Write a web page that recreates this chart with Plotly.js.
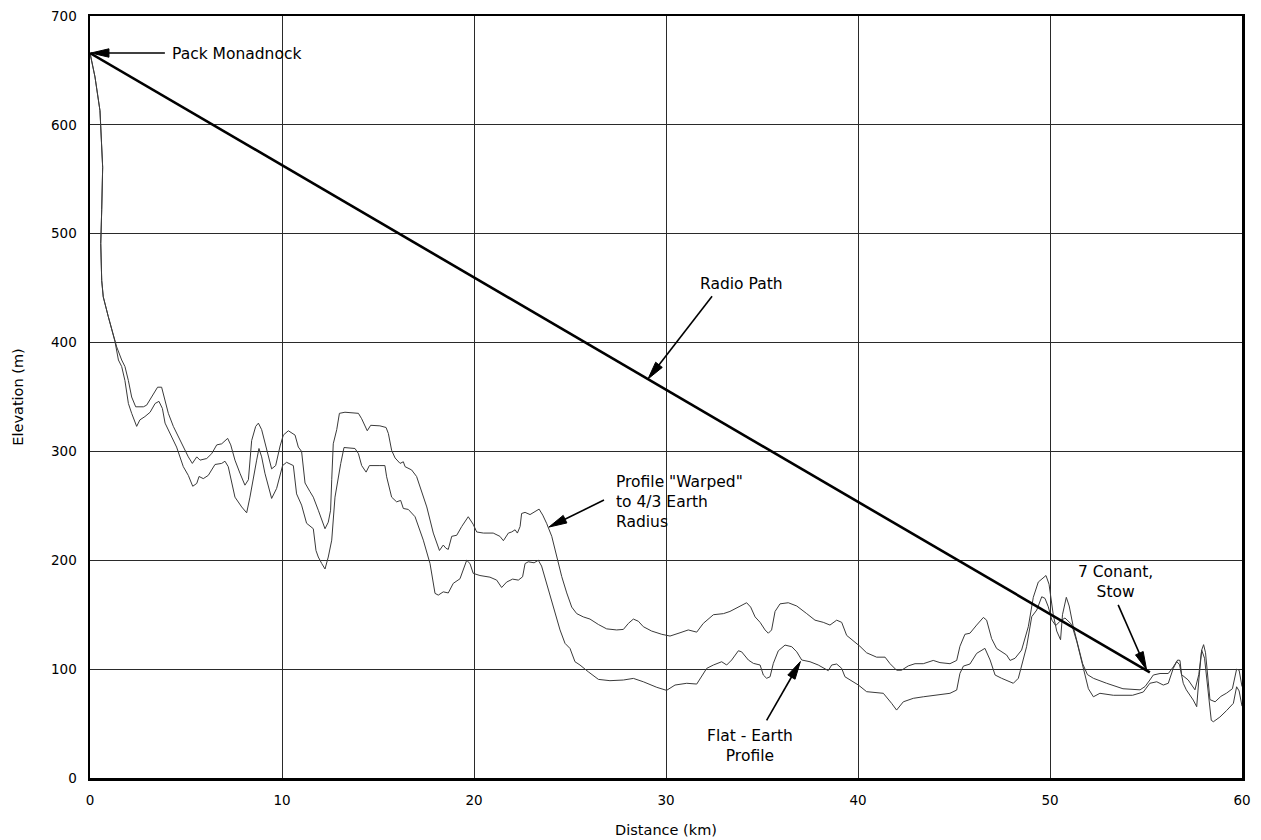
<!DOCTYPE html>
<html>
<head>
<meta charset="utf-8">
<script src="https://cdn.plot.ly/plotly-3.0.1.min.js"></script>
<style>html,body{margin:0;padding:0;background:#fff;}#chart{width:1261px;height:840px;}</style>
</head>
<body>
<div id="chart"></div>
<script>
// ---- Data ----
const xTicks = [0, 10, 20, 30, 40, 50, 60];
const yTicks = [0, 100, 200, 300, 400, 500, 600, 700];

const radioPathKm = [0, 55.2];
const radioPathM = [666, 97];

const warpedKm = [0,0.26,0.52,0.61,0.66,0.61,0.56,0.61,0.69,0.95,1.30,1.39,1.65,1.82,2.0,2.17,2.38,2.78,2.95,3.21,3.52,3.73,3.91,4.08,4.34,4.77,5.12,5.33,5.56,5.73,6.08,6.34,6.60,6.86,7.17,7.33,7.55,7.81,8.07,8.25,8.42,8.63,8.77,8.94,9.20,9.46,9.67,9.90,10.07,10.33,10.68,10.85,11.02,11.20,11.46,11.63,11.89,12.07,12.24,12.41,12.53,12.59,12.67,12.85,12.99,13.28,13.98,14.15,14.32,14.44,14.62,15.10,15.42,15.54,15.71,15.89,16.15,16.32,16.41,16.75,17.01,17.19,17.54,17.88,18.20,18.40,18.54,18.66,18.84,19.10,19.36,19.70,19.96,20.14,20.49,21.0,21.35,21.53,21.79,21.96,22.14,22.26,22.40,22.48,22.66,22.92,23.18,23.39,23.58,23.78,24.05,24.31,24.57,24.83,25.09,25.35,25.69,26.04,26.48,26.91,27.43,27.78,28.04,28.30,28.56,28.82,29.25,29.78,30.21,30.73,31.16,31.60,31.94,32.47,32.99,33.33,33.77,34.20,34.41,34.64,34.90,35.16,35.33,35.50,35.68,35.94,36.37,36.81,37.33,37.76,38.19,38.54,38.89,39.15,39.41,39.76,40.10,40.45,40.97,41.41,41.67,42.01,42.27,42.62,42.97,43.40,43.92,44.27,44.79,45.14,45.31,45.57,45.83,46.18,46.53,46.70,46.96,47.22,47.57,47.74,47.92,48.18,48.52,48.87,49.13,49.39,49.79,49.95,50.17,50.35,50.55,50.65,50.85,51.0,51.2,51.45,51.7,51.95,52.26,52.95,53.8,54.69,54.95,55.2,55.38,55.73,56.16,56.42,56.65,56.77,56.85,57.2,57.55,57.75,57.9,58.0,58.1,58.33,58.6,58.9,59.2,59.5,59.72,59.85,60];
const warpedM = [666,644,613,583,561,522,491,457,442,424,401,396,384,378,365,350,341,341,342.5,350,359,359,347,335,323,307,295,289,295,292,293.5,298,306,307,312,306,292,280,269,274,310,323,326,320,301,284,287,305,315,319,315,304,300,271,263,258,246,237,229,235,246,274,307,320,335,336,335,330,323,319,324,323.5,322,316.5,301,294,289,290.5,286,283,277,267.5,249,225,209,214,211,210,222,223,231,240,233,226,225,225,222,218,225,226,228,225,231,243,244,242,245,247,241.5,234,222,203,185,170,157,151,148,146,141,137,136,136.5,142,146,144,139,135,132,130.4,133.4,136,134,142,150,151,153,157,161,157,148,143,136,133,136,153,160,161,158,151,145,143,140.5,145,143,131,126,121,115,111,111,105,99,99,103,105,105,108,106,105,108,121,132,133,140.5,147.5,145,128,119,115,113,108,110,117.5,139,166,180,186,178,150,135,127,150,166,158,140,122,105,95,91.6,87,82,81,84,90,94.6,96,96,102,108.4,108,95,90,81,95,117.5,122.5,115,72,70,75,78,82,100,99,84];

const flatKm = [0,0.26,0.52,0.61,0.66,0.61,0.56,0.61,0.69,0.95,1.30,1.48,1.65,1.82,2.0,2.17,2.43,2.60,2.86,3.13,3.39,3.59,3.77,3.91,4.17,4.51,4.86,5.12,5.35,5.56,5.68,5.90,6.16,6.51,6.86,7.03,7.20,7.38,7.55,7.90,8.16,8.33,8.51,8.68,8.80,8.94,9.11,9.29,9.46,9.72,9.98,10.03,10.24,10.59,10.76,11.02,11.28,11.63,11.77,11.89,12.07,12.24,12.41,12.59,12.76,12.93,13.06,13.23,13.80,13.98,14.15,14.38,14.55,15.10,15.36,15.45,15.71,15.97,16.18,16.32,16.58,16.93,17.36,17.71,17.97,18.14,18.40,18.66,18.92,19.27,19.62,19.79,19.96,20.31,20.83,21.18,21.44,21.70,22.01,22.31,22.53,22.66,22.83,23.13,23.35,23.52,23.78,24.13,24.48,24.74,25.0,25.26,25.52,25.95,26.48,27.08,27.78,28.30,28.82,29.52,30.03,30.47,31.08,31.60,31.86,32.12,32.47,32.90,33.16,33.42,33.77,33.94,34.29,34.55,34.90,35.07,35.24,35.42,35.59,35.85,36.20,36.55,36.81,37.07,37.50,37.93,38.45,38.63,38.89,39.15,39.32,39.67,40.02,40.45,40.89,41.32,41.75,42.01,42.36,42.88,43.40,44.10,44.79,45.14,45.31,45.49,45.83,46.18,46.61,46.88,47.14,47.48,47.74,48.09,48.35,48.52,48.78,49.05,49.31,49.57,49.74,49.91,50.1,50.3,50.52,50.78,51.13,51.4,51.6,51.8,52.0,52.26,52.6,53.3,54.3,54.86,55.2,55.56,55.9,56.16,56.42,56.6,56.75,56.94,57.1,57.46,57.64,57.75,57.9,58.05,58.4,58.51,58.85,59.2,59.55,59.72,59.85,60];
const flatM = [666,644,613,583,561,522,491,457,442,424,401,384,378,365,344,335,323,329,332,336,344,346,339.5,326,316.5,304,286,278,268,270.6,277,275,278,288,289,291,286,270.6,258,249,243.6,258,276.7,292,302.7,295,280,267.5,256.8,266,283,287,290,287,261,250.7,234,229,209,203,197,192,203,218.5,258,276.7,289,303.6,302.7,298,287,281,287,287,287,276.7,258,253.7,255,247.6,246.7,240,218.5,197,169.6,168,171,170,178.8,183,200,197,188,186,184.5,181.8,175,180,182.7,181.8,184.8,197,198.6,197.7,200,194.7,178.8,157,136,123.7,119,106.8,103.8,97.6,90.6,89.4,90,91.5,88.4,83.3,80.5,85.4,87,86.3,93,100.7,103.8,106.8,103.8,108.4,116.9,115.9,108.4,105.3,103.8,94.6,91.6,93,105.3,116.9,122.1,120.6,115.9,108.4,106.8,103.8,98.6,103.8,104.7,100.7,93,89.4,85.4,79.3,78.7,77.8,68.6,62.4,70,73.2,74.6,76.2,77.8,80.8,96.1,102.8,104.7,114.5,119.1,108.4,94.6,91.6,89.4,87,91.6,102.3,120.6,148.2,154.3,166.5,165,157.3,145,140,144,147,141,125,110,95,82,74.6,77.8,76,76,79,87,88.4,85.4,87,100.7,107,104,87,81,71.6,65.5,90,117.5,110,53,51.7,56,62,68.6,83.8,80,66];

// annotation labels and where they point (data units)
const labels = ["Pack Monadnock", "Radio Path", "Profile \"Warped\"<br>to 4/3 Earth<br>Radius", "7 Conant,<br>Stow", "Flat - Earth<br>Profile"];
const labelKm = [4.15, 33.95, 27.3, 53.4, 34.4];
const labelM = [665, 454, 254, 180, 29];
const labelAnchor = ["left", "center", "left", "center", "center"];
const labelAlign = ["left", "center", "left", "center", "center"];
const headKm = [0.05, 29.06, 23.9, 55.03, 37.0];
const headM = [666, 366.5, 230.5, 99.5, 107];
const tailKm = [3.9, 32.4, 26.77, 53.55, 35.24];
const tailM = [666, 442.6, 255.3, 159, 53];

// ---- Layout geometry ----
const W = 1261, H = 840;
const margin = {l: 90, r: 19, t: 16, b: 62};
const xRange = [0, 60], yRange = [0, 700];
const sx = (W - margin.l - margin.r) / (xRange[1] - xRange[0]);
const sy = (H - margin.t - margin.b) / (yRange[1] - yRange[0]);

const FONT = "DejaVu Sans, sans-serif";

const traces = [
  {x: warpedKm, y: warpedM, type: "scatter", mode: "lines", line: {color: "#3a3a3a", width: 1}, hoverinfo: "skip"},
  {x: flatKm, y: flatM, type: "scatter", mode: "lines", line: {color: "#3a3a3a", width: 1}, hoverinfo: "skip"},
  {x: radioPathKm, y: radioPathM, type: "scatter", mode: "lines", line: {color: "#000", width: 2.6}, hoverinfo: "skip"}
];

const shapes = [];
for (let i = 0; i < headKm.length; i++) {
  const hx = headKm[i], hy = headM[i], tx = tailKm[i], ty = tailM[i];
  const dxp = (tx - hx) * sx, dyp = -(ty - hy) * sy;
  const len = Math.hypot(dxp, dyp);
  const ux = dxp / len, uy = dyp / len;
  const L = 18, w = 4.2;
  const bx = ux * L, by = uy * L;
  const px = -uy, py = ux;
  const toData = (ox, oy) => [hx + ox / sx, hy - oy / sy];
  const p1 = toData(0, 0), p2 = toData(bx + px * w, by + py * w), p3 = toData(bx - px * w, by - py * w);
  const base = toData(bx * 0.8, by * 0.8);
  shapes.push({type: "path", xref: "x", yref: "y",
    path: `M${p1[0]},${p1[1]} L${p2[0]},${p2[1]} L${p3[0]},${p3[1]} Z`,
    fillcolor: "#000", line: {color: "#000", width: 1}});
  shapes.push({type: "line", xref: "x", yref: "y", x0: base[0], y0: base[1], x1: tx, y1: ty,
    line: {color: "#000", width: 1.6}});
}

const annotations = labels.map((t, i) => ({
  x: labelKm[i], y: labelM[i], xref: "x", yref: "y", text: t, showarrow: false,
  xanchor: labelAnchor[i], yanchor: "middle", align: labelAlign[i],
  font: {family: FONT, size: 15.5, color: "#000"}
}));

const layout = {
  width: W, height: H,
  margin: margin,
  paper_bgcolor: "#fff", plot_bgcolor: "#fff",
  showlegend: false,
  xaxis: {
    range: xRange, tickvals: xTicks, ticktext: xTicks.map(String),
    showgrid: true, gridcolor: "#2a2a2a", gridwidth: 1, zeroline: false,
    showline: true, mirror: true, linecolor: "#000", linewidth: 2.5,
    ticks: "outside", ticklen: 8, tickcolor: "rgba(0,0,0,0)",
    tickfont: {family: FONT, size: 13.5, color: "#000"},
    title: {text: "Distance (km)", font: {family: FONT, size: 14.5, color: "#000"}, standoff: 18},
    automargin: false, fixedrange: true
  },
  yaxis: {
    range: yRange, tickvals: yTicks, ticktext: yTicks.map(String),
    showgrid: true, gridcolor: "#2a2a2a", gridwidth: 1, zeroline: false,
    showline: true, mirror: true, linecolor: "#000", linewidth: 2.5,
    ticks: "outside", ticklen: 8, tickcolor: "rgba(0,0,0,0)",
    tickfont: {family: FONT, size: 13.5, color: "#000"},
    title: {text: "Elevation (m)", font: {family: FONT, size: 14.5, color: "#000"}, standoff: 24},
    automargin: false, fixedrange: true
  },
  shapes: shapes,
  annotations: annotations
};

Plotly.newPlot("chart", traces, layout, {displayModeBar: false, staticPlot: true});
</script>
</body>
</html>
